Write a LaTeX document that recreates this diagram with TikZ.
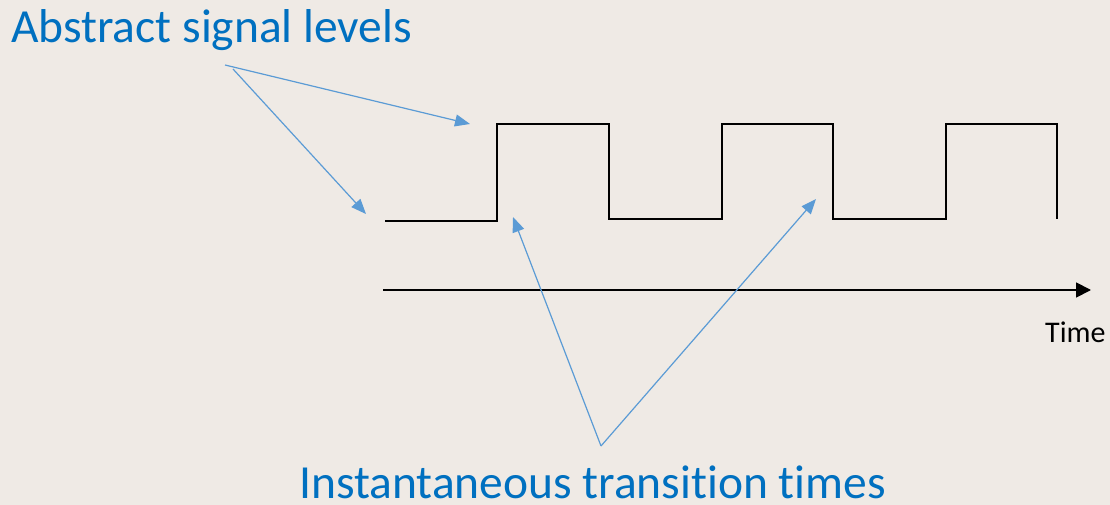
\documentclass[tikz,border=0pt]{standalone}
\usepackage{fontspec}
\setmainfont{Carlito}[Ligatures={NoCommon}]
\usetikzlibrary{arrows.meta}
\definecolor{bgpaper}{RGB}{239,234,229}
\definecolor{labelblue}{RGB}{0,112,192}
\definecolor{pointerblue}{RGB}{91,155,213}
\begin{document}
\begin{tikzpicture}[x=1pt,y=-1pt,
  pointer/.style={draw=pointerblue,line width=1.2pt,-{Triangle[length=15pt,width=12pt]}},
  wave/.style={draw=black,line width=1.8pt,line join=miter},
  axis/.style={draw=black,line width=1.8pt,-{Triangle[length=15pt,width=15pt]}},
  caption/.style={text=labelblue,font=\fontsize{47.5}{52}\selectfont,inner sep=0pt,anchor=base west},
  small/.style={text=black,font=\fontsize{30}{34}\selectfont,inner sep=0pt,anchor=base west}]
  % page
  \fill[bgpaper] (0,0) rectangle (1110,505);
  \useasboundingbox (0,0) rectangle (1110,505);

  % labels
  \node[caption] (levels) at (11,43) {Abstract signal levels};
  \node[caption,text depth=0pt] (trans) at (299,498) {Instantaneous transition times};
  \node[small] (time) at (1045,342) {Time};

  % square wave
  \draw[wave] (385,221) -- (497,221) -- (497,124) -- (609,124) -- (609,219)
    -- (722,219) -- (722,124) -- (833,124) -- (833,219) -- (946,219)
    -- (946,124) -- (1057,124) -- (1057,219);

  % time axis
  \coordinate (t0) at (383,290);
  \coordinate (t1) at (1091,290);
  \draw[axis] (t0) -- (t1);

  % pointers to the signal levels
  \coordinate (lvA) at (225,65);
  \coordinate (lvB) at (233,69);
  \coordinate (hi) at (470,124);
  \coordinate (lo) at (366,214);
  \draw[pointer] (lvA) -- (hi);
  \draw[pointer] (lvB) -- (lo);

  % pointers to the edges
  \coordinate (tv) at (601,446);
  \coordinate (edge1) at (513,217);
  \coordinate (edge2) at (816,199);
  \draw[pointer] (tv) -- (edge1);
  \draw[pointer] (tv) -- (edge2);
\end{tikzpicture}
\end{document}
